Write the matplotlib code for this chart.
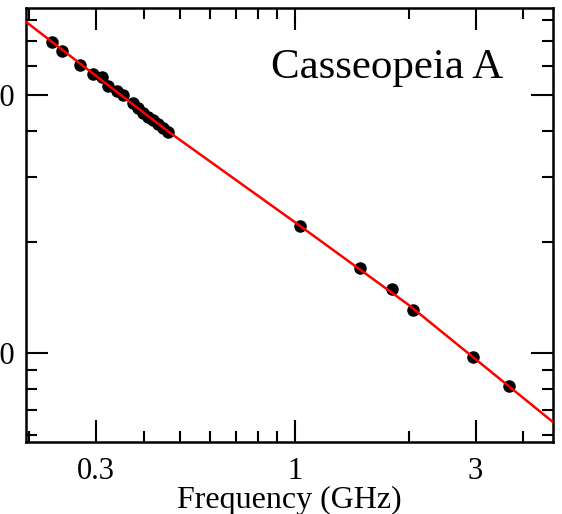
import matplotlib
matplotlib.use("Agg")
import matplotlib.pyplot as plt
from matplotlib.ticker import FixedLocator, NullFormatter

freq_ghz = [0.230, 0.244, 0.272, 0.295, 0.311, 0.323, 0.341, 0.353, 0.375,
            0.387, 0.399, 0.411, 0.424, 0.437, 0.450, 0.464,
            1.032, 1.485, 1.803, 2.048, 2.945, 3.664]
flux_jy = [6963, 6583, 6033, 5703, 5598, 5291, 5129, 5003, 4758,
           4613, 4471, 4361, 4280, 4175, 4072, 3971,
           2209, 1700, 1491, 1308, 975, 814]

# fitted spectrum
fit_freq = [0.196, 0.464, 1.0, 2.0, 4.8]
fit_flux = [7889, 3984, 2265, 1349, 650]

x_major = [0.3, 1, 3]
x_major_labels = ["0.3", "1", "3"]
x_minor = [0.2, 0.4, 0.5, 0.6, 0.7, 0.8, 0.9, 2, 4]
y_major = [1000, 5000]
y_major_labels = ["1000", "5000"]
y_minor = [600, 700, 800, 900, 2000, 3000, 4000, 6000, 7000, 8000]

plt.rcParams["font.family"] = ["Liberation Serif", "DejaVu Serif"]

fig = plt.figure(figsize=(5.62, 5.14), dpi=100)
ax = fig.add_axes([26 / 562, 1 - 442 / 514, 527 / 562, 434 / 514])

ax.plot(fit_freq, fit_flux, color="red", lw=1.8, zorder=3)
ax.plot(freq_ghz, flux_jy, "o", color="black", ms=8, zorder=2)

ax.set_xscale("log")
ax.set_yscale("log")
ax.set_xlim(0.196, 4.8)
ax.set_ylim(574, 8600)

ax.xaxis.set_major_locator(FixedLocator(x_major))
ax.xaxis.set_minor_locator(FixedLocator(x_minor))
ax.set_xticklabels(x_major_labels)
ax.xaxis.set_minor_formatter(NullFormatter())
ax.yaxis.set_major_locator(FixedLocator(y_major))
ax.yaxis.set_minor_locator(FixedLocator(y_minor))
ax.set_yticklabels(y_major_labels)
ax.yaxis.set_minor_formatter(NullFormatter())

ax.tick_params(which="both", direction="in", top=True, right=True,
               width=1.5, labelsize=22, color="black")
ax.tick_params(which="major", length=16)
ax.tick_params(which="minor", length=8)
ax.tick_params(axis="x", pad=11)
ax.tick_params(axis="y", pad=8)
for s in ax.spines.values():
    s.set_linewidth(1.8)

ax.set_xlabel("Frequency (GHz)", fontsize=23, labelpad=0)
ax.text(0.905, 0.839, "Casseopeia A", transform=ax.transAxes,
        ha="right", va="baseline", fontsize=31)

fig.savefig("out.png", dpi=100)
